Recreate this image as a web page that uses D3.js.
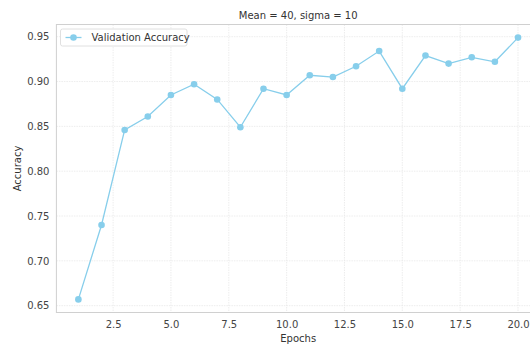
<!DOCTYPE html>
<html>
<head>
<meta charset="utf-8">
<script src="https://cdn.jsdelivr.net/npm/d3@7/dist/d3.min.js"></script>
<style>
  html, body { margin: 0; padding: 0; background: #ffffff; }
  svg { display: block; font-family: "DejaVu Sans", sans-serif; }
</style>
</head>
<body>
<svg id="chart" width="530" height="344"></svg>
<script>
// Validation accuracy per training epoch
const epochs = [1, 2, 3, 4, 5, 6, 7, 8, 9, 10, 11, 12, 13, 14, 15, 16, 17, 18, 19, 20];
const accuracy = [0.657, 0.740, 0.846, 0.861, 0.885, 0.897, 0.880, 0.849, 0.892, 0.885,
                  0.907, 0.905, 0.917, 0.934, 0.892, 0.929, 0.920, 0.927, 0.922, 0.949];
const xTicks = [2.5, 5.0, 7.5, 10.0, 12.5, 15.0, 17.5, 20.0];
const yTicks = [0.65, 0.70, 0.75, 0.80, 0.85, 0.90, 0.95];
const seriesName = "Validation Accuracy";
const titleText = "Mean = 40, sigma = 10";

const svg = d3.select("#chart");
const margin = { left: 56.4, top: 24.5, right: 540, bottom: 312.5 };
const color = "#87CEEB";

// 5% padding around the data range on both axes
const xExt = d3.extent(epochs), xPad = (xExt[1] - xExt[0]) * 0.05;
const yExt = d3.extent(accuracy), yPad = (yExt[1] - yExt[0]) * 0.05;

const x = d3.scaleLinear().domain([xExt[0] - xPad, xExt[1] + xPad]).range([margin.left, margin.right]);
const y = d3.scaleLinear().domain([yExt[0] - yPad, yExt[1] + yPad]).range([margin.bottom, margin.top]);

// grid
const grid = svg.append("g");
grid.selectAll("line.gx").data(xTicks).join("line")
  .attr("x1", d => x(d)).attr("x2", d => x(d))
  .attr("y1", margin.top).attr("y2", margin.bottom)
  .attr("stroke", "#e8e8e8").attr("stroke-width", 0.8).attr("stroke-dasharray", "1.5,1");
grid.selectAll("line.gy").data(yTicks).join("line")
  .attr("y1", d => y(d)).attr("y2", d => y(d))
  .attr("x1", margin.left).attr("x2", margin.right)
  .attr("stroke", "#e8e8e8").attr("stroke-width", 0.8).attr("stroke-dasharray", "1.5,1");

// frame
svg.append("rect")
  .attr("x", margin.left).attr("y", margin.top)
  .attr("width", margin.right - margin.left).attr("height", margin.bottom - margin.top)
  .attr("fill", "none").attr("stroke", "#d0d0d0").attr("stroke-width", 1);

// axes (labels only)
const xAxis = svg.append("g").attr("transform", `translate(0,${margin.bottom})`)
  .call(d3.axisBottom(x).tickValues(xTicks).tickFormat(d3.format(".1f")).tickSize(0).tickPadding(8));
const yAxis = svg.append("g").attr("transform", `translate(${margin.left},0)`)
  .call(d3.axisLeft(y).tickValues(yTicks).tickFormat(d3.format(".2f")).tickSize(0).tickPadding(7));
[xAxis, yAxis].forEach(a => {
  a.select(".domain").remove();
  a.selectAll("text").attr("fill", "#444").attr("font-size", "10px")
    .attr("font-family", "DejaVu Sans, sans-serif");
});

// line + markers
const line = d3.line().x((d, i) => x(epochs[i])).y(d => y(d));
svg.append("path").datum(accuracy)
  .attr("d", line).attr("fill", "none").attr("stroke", color).attr("stroke-width", 1.3);
svg.append("g").selectAll("circle").data(accuracy).join("circle")
  .attr("cx", (d, i) => x(epochs[i])).attr("cy", d => y(d)).attr("r", 3.3)
  .attr("fill", color);

// title and axis labels
svg.append("text").attr("x", (margin.left + margin.right) / 2).attr("y", 19)
  .attr("text-anchor", "middle").attr("font-size", "10px").attr("fill", "#333").text(titleText);
svg.append("text").attr("x", (margin.left + margin.right) / 2).attr("y", 342)
  .attr("text-anchor", "middle").attr("font-size", "10px").attr("fill", "#333").text("Epochs");
svg.append("text").attr("transform", `translate(21,${(margin.top + margin.bottom) / 2}) rotate(-90)`)
  .attr("text-anchor", "middle").attr("font-size", "10px").attr("fill", "#333").text("Accuracy");

// legend
const lg = svg.append("g").attr("transform", "translate(60.5,29)");
lg.append("rect").attr("width", 126.5).attr("height", 17).attr("rx", 2)
  .attr("fill", "#fff").attr("stroke", "#d8d8d8").attr("stroke-width", 0.8);
lg.append("line").attr("x1", 5).attr("x2", 21).attr("y1", 8.5).attr("y2", 8.5)
  .attr("stroke", color).attr("stroke-width", 1.3);
lg.append("circle").attr("cx", 13).attr("cy", 8.5).attr("r", 3.3).attr("fill", color);
lg.append("text").attr("x", 31).attr("y", 12.3).attr("font-size", "10px").attr("fill", "#333").text(seriesName);
</script>
</body>
</html>
